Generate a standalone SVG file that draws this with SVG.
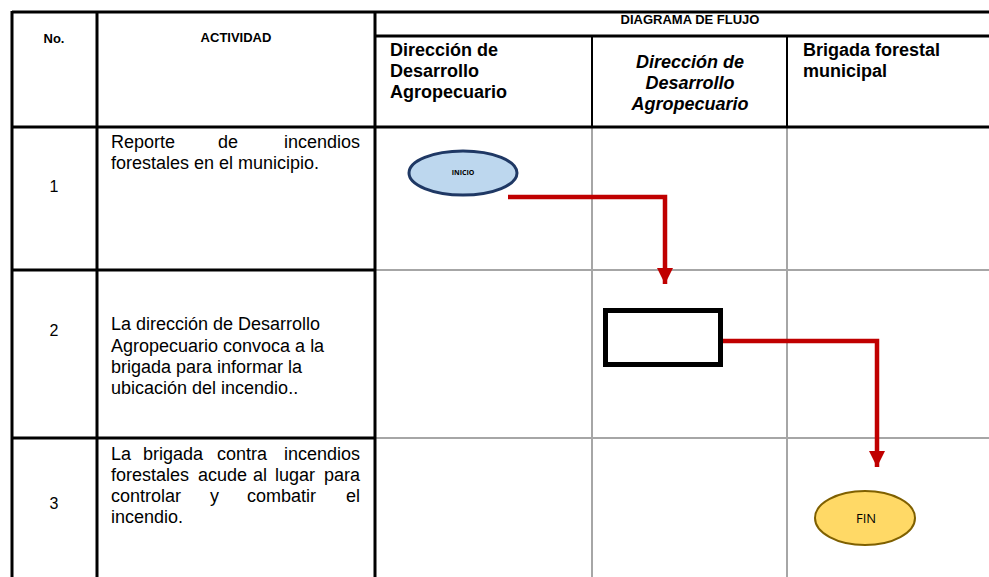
<svg xmlns="http://www.w3.org/2000/svg" width="989" height="577" viewBox="0 0 989 577">
<defs>
<style>
.blk{stroke:#000;stroke-width:3;fill:none}
.hdiv{stroke:#000;stroke-width:2;fill:none}
.gry{stroke:#A6A6A6;stroke-width:2;fill:none}
.conn{stroke:#C00000;stroke-width:4.5;fill:none}
.t{font-family:"Liberation Sans",Arial,sans-serif;fill:#000}
.hb{font-size:13px;font-weight:bold}
.lh{font-size:18px;font-weight:bold}
.act{font-size:18px}
.num{font-size:16px}
.e{text-anchor:end}
</style>
<marker id="ah" viewBox="0 0 10 10" refX="10" refY="5" markerWidth="16" markerHeight="16" markerUnits="userSpaceOnUse" orient="auto">
<path d="M0,0 L10,5 L0,10 z" fill="#C00000"/>
</marker>
</defs>
<rect width="989" height="577" fill="#fff"/>
<g id="grid">
<line class="gry" x1="375" y1="270" x2="989" y2="270"/>
<line class="gry" x1="375" y1="438" x2="989" y2="438"/>
<line class="gry" x1="592" y1="127" x2="592" y2="577"/>
<line class="gry" x1="787" y1="127" x2="787" y2="577"/>
<line class="hdiv" x1="592" y1="36" x2="592" y2="127"/>
<line class="hdiv" x1="787" y1="36" x2="787" y2="127"/>
<line class="blk" x1="12" y1="12" x2="989" y2="12"/>
<line class="blk" x1="375" y1="36" x2="989" y2="36"/>
<line class="blk" x1="12" y1="127" x2="989" y2="127"/>
<line class="blk" x1="12" y1="270" x2="375" y2="270"/>
<line class="blk" x1="12" y1="438" x2="375" y2="438"/>
<line class="blk" x1="12" y1="11" x2="12" y2="577"/>
<line class="blk" x1="97" y1="11" x2="97" y2="577"/>
<line class="blk" x1="375" y1="11" x2="375" y2="577"/>
</g>
<g id="headers">
<text class="t hb" x="54" y="43" text-anchor="middle">No.</text>
<text class="t hb" x="236" y="42" text-anchor="middle">ACTIVIDAD</text>
<text class="t hb" x="690" y="24" text-anchor="middle">DIAGRAMA DE FLUJO</text>
<text class="t lh" x="390"><tspan x="390" y="56">Dirección de</tspan><tspan x="390" y="77">Desarrollo</tspan><tspan x="390" y="98">Agropecuario</tspan></text>
<text class="t lh" font-style="italic" text-anchor="middle"><tspan x="690" y="68">Dirección de</tspan><tspan x="690" y="89">Desarrollo</tspan><tspan x="690" y="110">Agropecuario</tspan></text>
<text class="t lh" x="803"><tspan x="803" y="56">Brigada forestal</tspan><tspan x="803" y="77">municipal</tspan></text>
</g>
<g id="rows">
<text class="t num" x="54" y="192" text-anchor="middle">1</text>
<text class="t num" x="54" y="336" text-anchor="middle">2</text>
<text class="t num" x="54" y="509" text-anchor="middle">3</text>
<text class="t act"><tspan x="111" y="148">Reporte</tspan><tspan x="218" y="148">de</tspan><tspan class="e" x="360" y="148">incendios</tspan></text>
<text class="t act" x="111" y="169">forestales en el municipio.</text>
<text class="t act"><tspan x="111" y="330">La dirección de Desarrollo</tspan><tspan x="111" y="352">Agropecuario convoca a la</tspan><tspan x="111" y="373">brigada para informar la</tspan><tspan x="111" y="394">ubicación del incendio..</tspan></text>
<text class="t act"><tspan x="111" y="460">La</tspan><tspan x="143" y="460">brigada</tspan><tspan x="217" y="460">contra</tspan><tspan class="e" x="360" y="460">incendios</tspan></text>
<text class="t act"><tspan x="111" y="481">forestales</tspan><tspan x="198" y="481">acude</tspan><tspan x="253" y="481">al</tspan><tspan x="275" y="481">lugar</tspan><tspan class="e" x="360" y="481">para</tspan></text>
<text class="t act"><tspan x="111" y="502">controlar</tspan><tspan x="210" y="502">y</tspan><tspan x="247" y="502">combatir</tspan><tspan class="e" x="360" y="502">el</tspan></text>
<text class="t act" x="111" y="523">incendio.</text>
</g>
<g id="connectors">
<polyline class="conn" points="508,197 665,197 665,284" marker-end="url(#ah)"/>
<polyline class="conn" points="722,341 877,341 877,467" marker-end="url(#ah)"/>
</g>
<g id="inicio">
<ellipse cx="463" cy="173" rx="54" ry="22" fill="#BDD7EE" stroke="#1F3864" stroke-width="3"/>
<text x="463" y="175" font-family="'Open Sans',sans-serif" font-size="7" font-weight="bold" text-anchor="middle" fill="#000">INICIO</text>
</g>
<g id="proceso">
<rect x="605.5" y="310.5" width="115" height="54" fill="#fff" stroke="#000" stroke-width="5"/>
</g>
<g id="fin">
<ellipse cx="865" cy="518" rx="50" ry="27" fill="#FFD966" stroke="#7F6000" stroke-width="2"/>
<text x="866" y="523" font-family="'Open Sans',sans-serif" font-size="13" text-anchor="middle" fill="#000">FIN</text>
</g>
</svg>
